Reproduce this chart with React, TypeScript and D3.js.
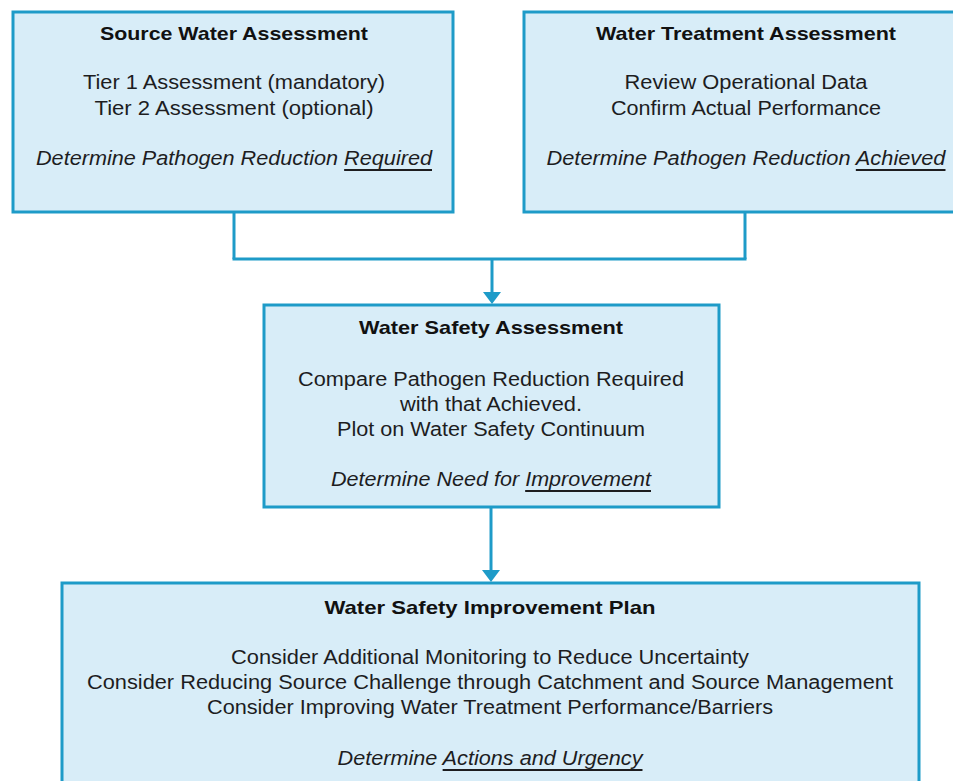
import React, { useEffect, useRef } from "react";
import * as d3 from "d3";

// ---- data ----
const boxTitles = [
  "Source Water Assessment",
  "Water Treatment Assessment",
  "Water Safety Assessment",
  "Water Safety Improvement Plan",
];
const boxLines = [
  ["Tier 1 Assessment (mandatory)", "Tier 2 Assessment (optional)"],
  ["Review Operational Data", "Confirm Actual Performance"],
  ["Compare Pathogen Reduction Required", "with that Achieved.", "Plot on Water Safety Continuum"],
  [
    "Consider Additional Monitoring to Reduce Uncertainty",
    "Consider Reducing Source Challenge through Catchment and Source Management",
    "Consider Improving Water Treatment Performance/Barriers",
  ],
];
const conclusionPrefix = [
  "Determine Pathogen Reduction ",
  "Determine Pathogen Reduction ",
  "Determine Need for ",
  "Determine ",
];
const conclusionUnderlined = ["Required", "Achieved", "Improvement", "Actions and Urgency"];
// flow links: from box index -> to box index
const links: [number[], number][] = [
  [[0, 1], 2],
  [[2], 3],
];

// ---- layout (positions / sizes / styles) ----
const W = 953;
const H = 781;
const STROKE = "#1e9bc8";
const FILL = "#d8edf8";
const TEXT = "#1d1d1f";

const boxRects = [
  { x0: 13, y0: 12, x1: 453, y1: 212 },
  { x0: 524, y0: 12, x1: 970, y1: 212 },
  { x0: 264, y0: 305, x1: 719, y1: 507 },
  { x0: 62, y0: 583, x1: 919, y1: 800 },
];
const textCx = [234, 746, 491, 490];
const titleY = [33, 33, 327, 607];
const lineY = [
  [82, 108],
  [82, 108],
  [379, 404, 429],
  [657, 682, 707],
];
const conclY = [158, 158, 479, 758];
const titleW = [268, 300, 264, 331];
const lineW = [
  [302, 279],
  [243, 270],
  [386, 182, 308],
  [518, 806, 566],
];
const conclW = [396, 399, 320, 305];
const linkY = [259, 0];

export default function App() {
  const ref = useRef<SVGSVGElement>(null);

  useEffect(() => {
    const svg = d3.select(ref.current);
    svg.selectAll("*").remove();

    const gBoxes = svg.append("g");
    gBoxes
      .selectAll("rect")
      .data(boxRects)
      .join("rect")
      .attr("x", (d) => d.x0)
      .attr("y", (d) => d.y0)
      .attr("width", (d) => d.x1 - d.x0)
      .attr("height", (d) => d.y1 - d.y0)
      .attr("fill", FILL)
      .attr("stroke", STROKE)
      .attr("stroke-width", 3);

    // connectors
    const line = d3.line<[number, number]>();
    const gLinks = svg.append("g");
    const head = 13;
    const headHalf = 9;
    links.forEach(([froms, to], i) => {
      const target = boxRects[to];
      const tx = textCx[to] + 1;
      if (froms.length > 1) {
        const yMid = linkY[i];
        froms.forEach((f) => {
          const r = boxRects[f];
          const fx = f === 0 ? 234 : 745;
          gLinks
            .append("path")
            .attr("d", line([[fx, r.y1], [fx, yMid]]))
            .attr("stroke", STROKE)
            .attr("stroke-width", 3)
            .attr("fill", "none");
        });
        gLinks
          .append("path")
          .attr("d", line([[234 - 1.5, yMid], [745 + 1.5, yMid]]))
          .attr("stroke", STROKE)
          .attr("stroke-width", 3)
          .attr("fill", "none");
        gLinks
          .append("path")
          .attr("d", line([[tx, yMid], [tx, target.y0 - head]]))
          .attr("stroke", STROKE)
          .attr("stroke-width", 3)
          .attr("fill", "none");
      } else {
        const r = boxRects[froms[0]];
        gLinks
          .append("path")
          .attr("d", line([[tx, r.y1], [tx, target.y0 - head]]))
          .attr("stroke", STROKE)
          .attr("stroke-width", 3)
          .attr("fill", "none");
      }
      gLinks
        .append("path")
        .attr(
          "d",
          line([
            [tx - headHalf, target.y0 - head],
            [tx + headHalf, target.y0 - head],
            [tx, target.y0 - 1],
          ]) + "Z"
        )
        .attr("fill", STROKE);
    });

    const gText = svg.append("g").attr("font-family", "'Liberation Sans', Arial, sans-serif").attr("fill", TEXT);

    boxTitles.forEach((t, i) => {
      gText
        .append("text")
        .attr("x", textCx[i])
        .attr("y", titleY[i])
        .attr("text-anchor", "middle")
        .attr("dominant-baseline", "central")
        .attr("font-size", 19)
        .attr("font-weight", "bold")
        .attr("fill", "#111")
        .attr("textLength", titleW[i])
        .attr("lengthAdjust", "spacingAndGlyphs")
        .text(t);

      boxLines[i].forEach((l, j) => {
        gText
          .append("text")
          .attr("x", textCx[i])
          .attr("y", lineY[i][j])
          .attr("text-anchor", "middle")
          .attr("dominant-baseline", "central")
          .attr("font-size", 20)
          .attr("textLength", lineW[i][j])
          .attr("lengthAdjust", "spacingAndGlyphs")
          .text(l);
      });

      const c = gText
        .append("text")
        .attr("x", textCx[i])
        .attr("y", conclY[i])
        .attr("text-anchor", "middle")
        .attr("dominant-baseline", "central")
        .attr("font-size", 20)
        .attr("font-style", "italic")
        .attr("textLength", conclW[i])
        .attr("lengthAdjust", "spacingAndGlyphs");
      c.append("tspan").text(conclusionPrefix[i]);
      c.append("tspan").attr("text-decoration", "underline").style("text-decoration", "underline").text(conclusionUnderlined[i]);
    });
  }, []);

  return (
    <svg
      ref={ref}
      width={W}
      height={H}
      style={{ position: "absolute", left: 0, top: 0, display: "block", background: "#fff" }}
    />
  );
}
